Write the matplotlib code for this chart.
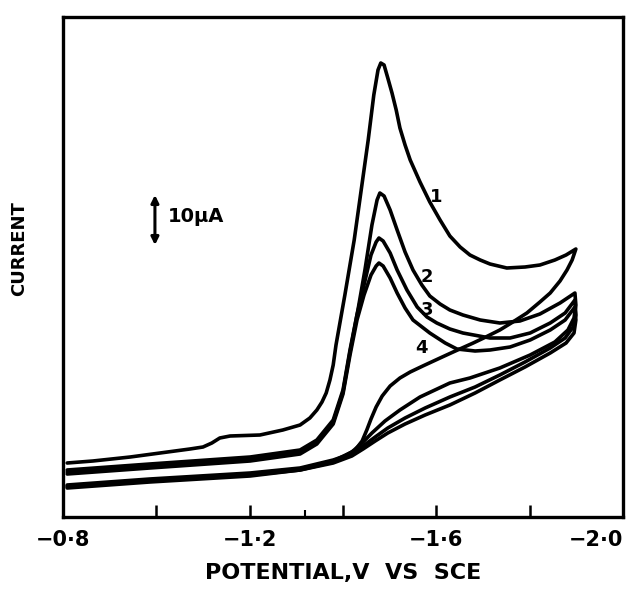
import matplotlib
matplotlib.use("Agg")
import matplotlib.pyplot as plt

# ---- data: potential (V vs SCE) and current (uA, arbitrary offset) ----
c1_fwd_v = [-0.809, -0.864, -0.944, -1.008, -1.072, -1.100, -1.119, -1.136, -1.158, -1.222,
            -1.271, -1.308, -1.329, -1.344, -1.355, -1.364, -1.372, -1.379, -1.385, -1.404,
            -1.424, -1.439, -1.454, -1.466, -1.475, -1.481, -1.488, -1.496, -1.505, -1.514,
            -1.522, -1.533, -1.544, -1.565, -1.586, -1.608, -1.629, -1.651, -1.672, -1.694,
            -1.715, -1.751, -1.790, -1.822, -1.854, -1.878, -1.899]
c1_fwd_i = [10.8, 11.2, 12.0, 12.8, 13.6, 14.0, 14.8, 15.8, 16.2, 16.4,
            17.4, 18.4, 19.8, 21.4, 23.0, 24.8, 27.4, 30.4, 34.4, 44.4,
            55.4, 65.4, 75.4, 84.4, 89.4, 90.8, 90.4, 87.8, 84.8, 81.4,
            77.8, 74.4, 71.4, 67.0, 63.0, 59.4, 56.2, 54.0, 52.4, 51.4,
            50.6, 49.8, 50.0, 50.4, 51.4, 52.4, 53.6]
c1_rev_v = [-1.899, -1.891, -1.880, -1.865, -1.844, -1.822, -1.794, -1.764, -1.736, -1.706,
            -1.679, -1.636, -1.608, -1.571, -1.544, -1.522, -1.501, -1.484, -1.471, -1.460,
            -1.451, -1.441, -1.426, -1.404, -1.379, -1.308, -1.201, -0.986, -0.809]
c1_rev_i = [53.6, 51.4, 49.4, 47.2, 44.8, 43.0, 40.8, 39.0, 37.4, 36.0,
            34.8, 33.0, 31.8, 30.2, 29.0, 27.8, 26.2, 24.2, 22.0, 19.6,
            17.4, 15.2, 13.4, 12.2, 11.4, 9.8, 8.8, 7.6, 6.4]

c2_fwd_v = [-0.809, -0.986, -1.201, -1.308, -1.344, -1.379, -1.400, -1.415, -1.432, -1.447,
            -1.462, -1.473, -1.479, -1.488, -1.501, -1.516, -1.533, -1.550, -1.569, -1.586,
            -1.608, -1.629, -1.657, -1.694, -1.736, -1.779, -1.822, -1.865, -1.897]
c2_fwd_i = [9.4, 10.6, 12.0, 13.4, 15.4, 19.4, 25.4, 33.4, 41.4, 49.4,
            58.4, 63.4, 64.8, 64.2, 61.4, 57.4, 53.0, 49.4, 46.4, 44.2,
            42.6, 41.4, 40.4, 39.4, 38.8, 39.2, 40.6, 42.8, 44.8]
c2_rev_v = [-1.897, -1.899, -1.895, -1.882, -1.854, -1.801, -1.736, -1.672, -1.629, -1.565,
            -1.522, -1.490, -1.462, -1.441, -1.419, -1.379, -1.308, -1.201, -0.986, -0.809]
c2_rev_i = [44.8, 42.4, 39.8, 37.4, 35.0, 32.4, 29.8, 27.8, 26.8, 24.0,
            21.4, 19.2, 16.8, 14.8, 13.0, 11.2, 9.6, 8.6, 7.4, 6.2]

c3_fwd_v = [-0.809, -0.986, -1.201, -1.308, -1.344, -1.379, -1.400, -1.415, -1.430, -1.445,
            -1.460, -1.471, -1.477, -1.486, -1.501, -1.516, -1.537, -1.559, -1.580, -1.601,
            -1.629, -1.657, -1.715, -1.758, -1.801, -1.844, -1.876, -1.897]
c3_fwd_i = [9.0, 10.2, 11.6, 13.0, 15.0, 19.0, 25.0, 33.0, 40.4, 46.4,
            52.4, 55.0, 55.8, 55.2, 52.8, 49.4, 45.4, 42.0, 40.0, 38.8,
            37.6, 36.8, 35.8, 35.8, 36.8, 38.8, 40.8, 43.4]
c3_rev_v = [-1.897, -1.899, -1.893, -1.876, -1.844, -1.790, -1.736, -1.683, -1.629, -1.576,
            -1.533, -1.496, -1.469, -1.443, -1.419, -1.379, -1.308, -1.201, -0.986, -0.809]
c3_rev_i = [43.4, 40.4, 38.0, 35.8, 33.8, 31.0, 28.4, 26.0, 24.0, 21.8,
            19.8, 17.8, 16.0, 14.2, 12.6, 11.0, 9.4, 8.4, 7.2, 6.0]

c4_fwd_v = [-0.809, -0.986, -1.201, -1.308, -1.344, -1.379, -1.400, -1.415, -1.430, -1.445,
            -1.460, -1.471, -1.477, -1.486, -1.501, -1.516, -1.533, -1.550, -1.586, -1.619,
            -1.644, -1.683, -1.715, -1.758, -1.801, -1.844, -1.876, -1.897]
c4_fwd_i = [8.6, 9.8, 11.2, 12.6, 14.6, 18.6, 24.6, 32.4, 39.4, 44.4,
            48.4, 50.2, 50.8, 50.2, 47.8, 44.8, 41.8, 39.4, 36.8, 34.8,
            33.6, 33.2, 33.4, 34.0, 35.4, 37.4, 39.4, 42.0]
c4_rev_v = [-1.897, -1.899, -1.895, -1.878, -1.844, -1.790, -1.736, -1.683, -1.629, -1.576,
            -1.533, -1.496, -1.469, -1.443, -1.419, -1.379, -1.308, -1.201, -0.986, -0.809]
c4_rev_i = [42.0, 39.4, 36.8, 34.8, 32.8, 30.0, 27.4, 24.8, 22.4, 20.4,
            18.6, 16.8, 15.2, 13.6, 12.2, 10.8, 9.4, 8.2, 7.0, 5.8]

curves = [
    (c1_fwd_v + c1_rev_v, c1_fwd_i + c1_rev_i),
    (c2_fwd_v + c2_rev_v, c2_fwd_i + c2_rev_i),
    (c3_fwd_v + c3_rev_v, c3_fwd_i + c3_rev_i),
    (c4_fwd_v + c4_rev_v, c4_fwd_i + c4_rev_i),
]

curve_labels = ["1", "2", "3", "4"]
label_v = [-1.599, -1.580, -1.580, -1.569]
label_i = [64.0, 48.0, 41.4, 33.8]

tick_values = [-0.8, -1.0, -1.2, -1.4, -1.6, -1.8, -2.0]
tick_labels = ["\u22120\u00b78", "", "\u22121\u00b72", "", "\u22121\u00b76", "", "\u22122\u00b70"]

scale_v = -0.997
scale_lo, scale_hi = 54.4, 64.4
scale_text = "10\u00b5A"

# ---- figure ----
fig = plt.figure(figsize=(6.3, 5.9), dpi=100)
ax = fig.add_axes([63 / 630, 73 / 590, 560 / 630, 500 / 590])
ax.set_xlim(-0.8, -2.0)
ax.set_ylim(0, 100)

for v, i in curves:
    ax.plot(v, i, color="black", lw=2.6, solid_joinstyle="round", solid_capstyle="round")

for lab, v, i in zip(curve_labels, label_v, label_i):
    ax.text(v, i, lab, fontsize=13, fontweight="bold", ha="center", va="center")

# scale bar
ax.annotate("", xy=(scale_v, scale_hi), xytext=(scale_v, scale_lo),
            arrowprops=dict(arrowstyle="<|-|>", lw=2.2, color="black",
                            mutation_scale=11, shrinkA=0, shrinkB=0))
ax.text(scale_v - 0.028, (scale_lo + scale_hi) / 2 + 0.8, scale_text,
        fontsize=14, fontweight="bold", ha="left", va="center")

for sp in ax.spines.values():
    sp.set_linewidth(2.4)

ax.set_xticks(tick_values)
ax.set_xticklabels(tick_labels, fontsize=15, fontweight="bold")
ax.set_xticks([-1.319], minor=True)
ax.tick_params(axis="x", which="major", direction="in", length=9, width=1.8, pad=9)
ax.tick_params(axis="x", which="minor", direction="in", length=5, width=1.5)
ax.set_yticks([])
lbls = ax.get_xticklabels()
lbls[-1].set_ha("right")

ax.set_xlabel("POTENTIAL,V  VS  SCE", fontsize=16, fontweight="bold", labelpad=10)
fig.text(19 / 630, 1 - 249 / 590, "CURRENT", rotation=90, fontsize=13,
         fontweight="bold", ha="center", va="center")

fig.savefig("out.png", dpi=100)
